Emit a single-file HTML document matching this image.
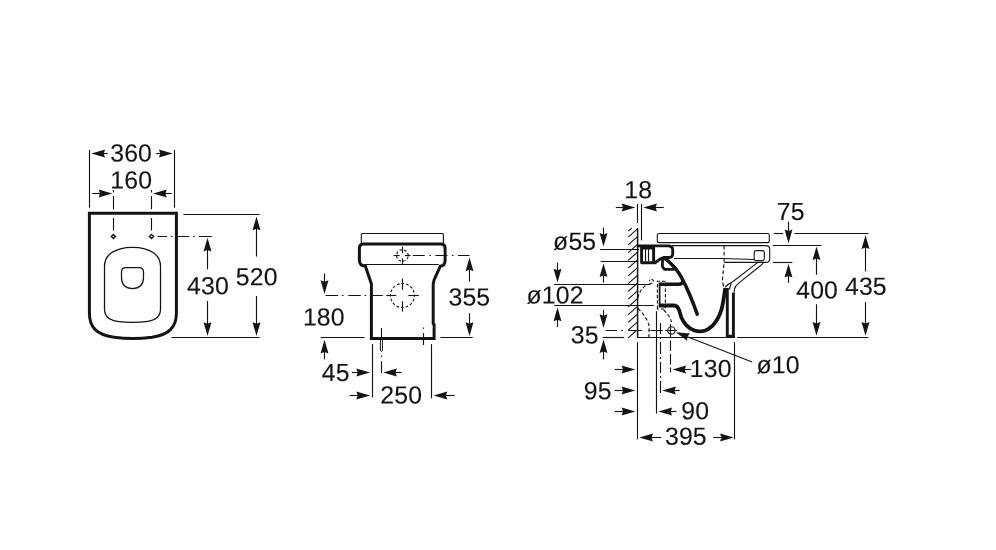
<!DOCTYPE html>
<html lang="en">
<head>
<meta charset="utf-8">
<title>Technical drawing</title>
<style>
html,body{margin:0;padding:0;background:#fff;}
body{width:996px;height:550px;overflow:hidden;}
svg{display:block;filter:grayscale(1);}
text{font-family:"Liberation Sans",Arial,Helvetica,sans-serif;font-size:25px;fill:#141414;stroke:#141414;stroke-width:0.12;text-rendering:geometricPrecision;}
.t{fill:none;stroke:#141414;stroke-width:1.12;}
.m{fill:none;stroke:#141414;stroke-width:1.5;}
.k{fill:none;stroke:#141414;stroke-width:2.4;stroke-linejoin:round;stroke-linecap:round;}
.ah{fill:#141414;stroke:none;}
</style>
</head>
<body>
<svg width="996" height="550" viewBox="0 0 996 550">
<rect x="0" y="0" width="996" height="550" fill="#ffffff"/>
<g id="fig1">
<line class="t" x1="89.50" y1="150.00" x2="89.50" y2="207.80"/>
<line class="t" x1="174.50" y1="150.00" x2="174.50" y2="207.80"/>
<polygon class="ah" points="91.40,153.50 105.10,157.45 103.60,153.50 105.10,149.55"/>
<line class="t" x1="103.10" y1="153.50" x2="107.70" y2="153.50"/>
<polygon class="ah" points="172.60,153.50 158.90,149.55 160.40,153.50 158.90,157.45"/>
<line class="t" x1="160.90" y1="153.50" x2="156.30" y2="153.50"/>
<text transform="translate(131.14,161.46) rotate(0.03)" text-anchor="middle" style="font-size:24.8px;letter-spacing:0.15px">360</text>
<text transform="translate(131.25,188.48) rotate(0.03)" text-anchor="middle" style="font-size:24.8px;letter-spacing:0.15px">160</text>
<polygon class="ah" points="112.30,193.50 98.60,189.55 100.10,193.50 98.60,197.45"/>
<line class="t" x1="100.60" y1="193.50" x2="92.30" y2="193.50"/>
<polygon class="ah" points="153.10,193.50 166.80,197.45 165.30,193.50 166.80,189.55"/>
<line class="t" x1="164.80" y1="193.50" x2="171.60" y2="193.50"/>
<line class="t" x1="113.50" y1="190.00" x2="113.50" y2="230.60" stroke-dasharray="2.6 3.4 13.2 8.8 12.6 100"/>
<line class="t" x1="151.50" y1="190.00" x2="151.50" y2="230.60" stroke-dasharray="2.6 3.4 13.2 8.8 12.6 100"/>
<path class="t" d="M113.40,234.40 l2.1,2.1 l-2.1,2.1 l-2.1,-2.1 z" style="stroke-width:1.35"/>
<path class="t" d="M151.50,234.40 l2.1,2.1 l-2.1,2.1 l-2.1,-2.1 z" style="stroke-width:1.35"/>
<line class="t" x1="157.60" y1="236.50" x2="212.30" y2="236.50" stroke-dasharray="9.5 3.8 1.6 3.7 13 4 1.6 4 13"/>
<path class="k" d="M89.4,213.3 L176.4,213.3 L176.4,313 C176.4,327 169.5,334.5 152,337.3 C140,338.9 126,338.9 114,337.3 C96,334.5 89.4,327 89.4,313 Z" style="stroke-linejoin:miter;stroke-width:3.0"/>
<path class="t" d="M104.5,266 C104.5,260 106.5,256.5 111.1,253.1 C114.8,250.4 122,247.3 132.5,247.3 C143,247.3 150.2,250.4 153.9,253.1 C158.5,256.5 160.5,260 160.5,266 L160.5,309 C160.5,316.5 156.5,320 148,321.3 C138,322.7 127,322.7 117,321.3 C108.5,320 104.5,316.5 104.5,309 Z" style="stroke-width:1.25"/>
<path class="t" d="M126,267.5 L139,267.5 Q143.5,267.5 143.5,272 L143.5,278 C143.5,284.5 139.3,288.6 132.5,288.6 C125.7,288.6 121.5,284.5 121.5,278 L121.5,272 Q121.5,267.5 126,267.5 Z" style="stroke-width:1.25"/>
<line class="t" x1="183.40" y1="214.50" x2="259.70" y2="214.50"/>
<line class="t" x1="171.40" y1="337.50" x2="259.70" y2="337.50"/>
<polygon class="ah" points="256.50,216.60 252.55,230.30 256.50,228.80 260.45,230.30"/>
<line class="t" x1="256.50" y1="228.30" x2="256.50" y2="256.60"/>
<polygon class="ah" points="256.50,336.00 260.45,322.30 256.50,323.80 252.55,322.30"/>
<line class="t" x1="256.50" y1="324.30" x2="256.50" y2="296.00"/>
<text transform="translate(256.70,285.24) rotate(0.03)" text-anchor="middle" style="font-size:24.8px;letter-spacing:0.15px">520</text>
<polygon class="ah" points="207.50,237.80 203.55,251.50 207.50,250.00 211.45,251.50"/>
<line class="t" x1="207.50" y1="249.50" x2="207.50" y2="269.30"/>
<polygon class="ah" points="207.50,336.00 211.45,322.30 207.50,323.80 203.55,322.30"/>
<line class="t" x1="207.50" y1="324.30" x2="207.50" y2="301.00"/>
<text transform="translate(207.90,294.31) rotate(0.03)" text-anchor="middle" style="font-size:24.8px;letter-spacing:0.15px">430</text>
</g>
<g id="fig2">
<path class="t" d="M362.3,233.5 L442.4,233.5 Q443.4,233.5 443.4,234.5 L443.4,243 M361.3,243 L361.3,234.5 Q361.3,233.5 362.3,233.5"/>
<path class="k" d="M363.6,243.9 L441,243.9 C444,243.9 445.1,245.3 445.1,248.3 L445.1,260.5 C445.1,264 443.6,265.8 440.3,266.2 L434.1,280 L433.2,284 L433.2,323.6 L434.1,324.6 L434.1,338.6 L371.4,338.6 L371.4,284 L370.1,280 L365.4,266.2 C361,265.8 359.4,264 359.4,260.5 L359.4,248.3 C359.4,245.3 360.6,243.9 363.6,243.9 Z" style="stroke-width:3;stroke-linejoin:miter"/>
<line class="t" x1="364.10" y1="264.50" x2="438.70" y2="264.50"/>
<circle class="t" cx="402.4" cy="255.5" r="5.8" stroke-dasharray="2.5 2.055" stroke-dashoffset="3.5"/>
<line class="t" x1="402.50" y1="246.60" x2="402.50" y2="253.30"/>
<line class="t" x1="402.50" y1="258.30" x2="402.50" y2="263.90"/>
<line class="t" x1="393.50" y1="255.50" x2="399.60" y2="255.50"/>
<line class="t" x1="405.00" y1="255.50" x2="410.50" y2="255.50"/>
<line class="t" x1="412.80" y1="255.50" x2="469.50" y2="255.50" stroke-dasharray="12 4.5 1.6 4.5"/>
<circle class="t" cx="402.45" cy="295.5" r="12" stroke-dasharray="2.7 2.012" stroke-dashoffset="1.35"/>
<line class="t" x1="402.50" y1="278.60" x2="402.50" y2="289.80"/>
<line class="t" x1="402.50" y1="301.20" x2="402.50" y2="311.60"/>
<line class="t" x1="386.40" y1="295.50" x2="396.30" y2="295.50"/>
<line class="t" x1="408.30" y1="295.50" x2="418.80" y2="295.50"/>
<line class="t" x1="325.60" y1="295.50" x2="382.80" y2="295.50" stroke-dasharray="12.6 3.7 1.6 4.7 12.5 3.8 1.6 5.2 11.5 100"/>
<polygon class="ah" points="324.50,294.00 328.45,280.30 324.50,281.80 320.55,280.30"/>
<line class="t" x1="324.50" y1="282.30" x2="324.50" y2="273.50"/>
<polygon class="ah" points="324.50,339.80 320.55,353.50 324.50,352.00 328.45,353.50"/>
<line class="t" x1="324.50" y1="351.50" x2="324.50" y2="359.30"/>
<text transform="translate(323.82,325.45) rotate(0.03)" text-anchor="middle" style="font-size:24.8px;letter-spacing:0.15px">180</text>
<line class="t" x1="320.70" y1="337.50" x2="364.60" y2="337.50"/>
<line class="t" x1="440.40" y1="337.50" x2="472.70" y2="337.50"/>
<polygon class="ah" points="469.50,257.60 465.55,271.30 469.50,269.80 473.45,271.30"/>
<line class="t" x1="469.50" y1="269.30" x2="469.50" y2="281.60"/>
<polygon class="ah" points="469.50,336.00 473.45,322.30 469.50,323.80 465.55,322.30"/>
<line class="t" x1="469.50" y1="324.30" x2="469.50" y2="313.20"/>
<text transform="translate(469.35,305.50) rotate(0.03)" text-anchor="middle" style="font-size:24.8px;letter-spacing:0.15px">355</text>
<line class="t" x1="372.50" y1="344.10" x2="372.50" y2="397.50"/>
<line class="t" x1="431.50" y1="344.10" x2="431.50" y2="398.30"/>
<line class="t" x1="381.50" y1="328.00" x2="381.50" y2="340.00"/>
<path class="t" d="M380.4,339.6 L380.4,350.6 Q381.4,352 382.4,350.6 L382.4,339.6" style="stroke-width:1"/>
<line class="t" x1="381.50" y1="355.60" x2="381.50" y2="373.10" stroke-dasharray="1.4 4.2 12 100"/>
<line class="t" x1="423.50" y1="327.40" x2="423.50" y2="345.10" stroke-dasharray="1.4 4.2 12 100"/>
<text transform="translate(335.70,381.09) rotate(0.03)" text-anchor="middle" style="font-size:24.8px;letter-spacing:0.15px">45</text>
<polygon class="ah" points="370.00,372.50 356.30,368.55 357.80,372.50 356.30,376.45"/>
<line class="t" x1="358.30" y1="372.50" x2="352.00" y2="372.50"/>
<polygon class="ah" points="383.20,372.50 396.90,376.45 395.40,372.50 396.90,368.55"/>
<line class="t" x1="394.90" y1="372.50" x2="401.70" y2="372.50"/>
<text transform="translate(401.28,403.61) rotate(0.03)" text-anchor="middle" style="font-size:24.8px;letter-spacing:0.15px">250</text>
<polygon class="ah" points="370.00,395.50 356.30,391.55 357.80,395.50 356.30,399.45"/>
<line class="t" x1="358.30" y1="395.50" x2="349.50" y2="395.50"/>
<polygon class="ah" points="433.60,395.50 447.30,399.45 445.80,395.50 447.30,391.55"/>
<line class="t" x1="445.30" y1="395.50" x2="454.60" y2="395.50"/>
</g>
<g id="fig3">
<text transform="translate(638.28,198.33) rotate(0.03)" text-anchor="middle" style="font-size:24.8px;letter-spacing:0.15px">18</text>
<polygon class="ah" points="635.30,207.50 621.60,203.55 623.10,207.50 621.60,211.45"/>
<line class="t" x1="623.60" y1="207.50" x2="615.80" y2="207.50"/>
<polygon class="ah" points="643.30,207.50 657.00,211.45 655.50,207.50 657.00,203.55"/>
<line class="t" x1="655.00" y1="207.50" x2="663.80" y2="207.50"/>
<line class="t" x1="637.50" y1="204.00" x2="637.50" y2="223.00"/>
<line class="t" x1="637.60" y1="228.00" x2="637.60" y2="337.50" style="stroke-width:1.5"/>
<line class="t" x1="637.50" y1="342.20" x2="637.50" y2="439.40"/>
<line class="t" x1="641.50" y1="204.00" x2="641.50" y2="240.30"/>
<line class="t" x1="628.20" y1="231.10" x2="631.70" y2="228.30"/>
<line class="t" x1="628.20" y1="237.10" x2="637.20" y2="229.10"/>
<line class="t" x1="628.20" y1="244.85" x2="637.20" y2="236.85"/>
<line class="t" x1="628.20" y1="252.60" x2="637.20" y2="244.60"/>
<line class="t" x1="628.20" y1="260.35" x2="637.20" y2="252.35"/>
<line class="t" x1="628.20" y1="268.10" x2="637.20" y2="260.10"/>
<line class="t" x1="628.20" y1="275.85" x2="637.20" y2="267.85"/>
<line class="t" x1="628.20" y1="283.60" x2="637.20" y2="275.60"/>
<line class="t" x1="628.20" y1="291.35" x2="637.20" y2="283.35"/>
<line class="t" x1="628.20" y1="299.10" x2="637.20" y2="291.10"/>
<line class="t" x1="628.20" y1="306.85" x2="637.20" y2="298.85"/>
<line class="t" x1="628.20" y1="314.60" x2="637.20" y2="306.60"/>
<line class="t" x1="628.20" y1="322.35" x2="637.20" y2="314.35"/>
<line class="t" x1="628.20" y1="330.10" x2="637.20" y2="322.10"/>
<line class="t" x1="628.20" y1="337.85" x2="636.20" y2="330.75"/>
<text transform="translate(574.70,249.73) rotate(0.03)" text-anchor="middle" style="font-size:24.8px;letter-spacing:0.15px">ø55</text>
<polygon class="ah" points="603.50,246.60 607.45,232.90 603.50,234.40 599.55,232.90"/>
<line class="t" x1="603.50" y1="234.90" x2="603.50" y2="227.60"/>
<line class="t" x1="600.10" y1="249.50" x2="639.20" y2="249.50"/>
<line class="t" x1="600.60" y1="261.50" x2="638.20" y2="261.50"/>
<polygon class="ah" points="603.50,263.40 599.55,277.10 603.50,275.60 607.45,277.10"/>
<line class="t" x1="603.50" y1="275.10" x2="603.50" y2="282.60"/>
<polygon class="ah" points="557.50,282.50 561.45,268.80 557.50,270.30 553.55,268.80"/>
<line class="t" x1="557.50" y1="270.80" x2="557.50" y2="262.70"/>
<line class="t" x1="554.10" y1="284.50" x2="650.30" y2="284.50"/>
<text transform="translate(555.11,303.52) rotate(0.03)" text-anchor="middle" style="font-size:24.8px;letter-spacing:0.15px">ø102</text>
<line class="t" x1="554.10" y1="305.50" x2="653.80" y2="305.50"/>
<polygon class="ah" points="557.50,307.60 553.55,321.30 557.50,319.80 561.45,321.30"/>
<line class="t" x1="557.50" y1="319.30" x2="557.50" y2="327.10"/>
<text transform="translate(584.71,343.38) rotate(0.03)" text-anchor="middle" style="font-size:24.8px;letter-spacing:0.15px">35</text>
<polygon class="ah" points="603.50,328.00 607.45,314.30 603.50,315.80 599.55,314.30"/>
<line class="t" x1="603.50" y1="316.30" x2="603.50" y2="310.00"/>
<line class="t" x1="605.60" y1="330.50" x2="677.10" y2="330.50" stroke-dasharray="11.5 4.3 1.6 5.2 14 6.3 1.6 0.6 12 2.5 12.5"/>
<line class="t" x1="602.60" y1="337.50" x2="624.20" y2="337.50"/>
<polygon class="ah" points="603.50,339.40 599.55,353.10 603.50,351.60 607.45,353.10"/>
<line class="t" x1="603.50" y1="351.10" x2="603.50" y2="359.40"/>
<line class="t" x1="637.10" y1="337.50" x2="735.00" y2="337.50"/>
<line class="t" x1="737.00" y1="337.50" x2="868.50" y2="337.50"/>
<line class="t" x1="656.50" y1="311.20" x2="656.50" y2="413.50"/>
<line class="t" x1="660.50" y1="323.10" x2="660.50" y2="393.50" stroke-dasharray="11 3 2 3 12 3 2 3"/>
<line class="t" x1="670.50" y1="324.10" x2="670.50" y2="338.20"/>
<line class="t" x1="670.50" y1="340.50" x2="670.50" y2="372.50" stroke-dasharray="10.5 3"/>
<circle class="t" cx="671.4" cy="330.4" r="3.7"/>
<path class="t" d="M637.7,298 C640,291 642,288.2 644.3,286.6 C646,285.3 648,284.6 650,284" stroke-dasharray="3.5 2.2"/>
<path class="t" d="M649.5,283.8 C653.5,283.5 654.3,280.5 652.3,279.6 C650.6,279 649.4,280 649.6,281.4" stroke-dasharray="3 1.6"/>
<path class="t" d="M638,308.5 C643,313 647.5,319.5 649.2,326 L648.9,337" stroke-dasharray="3.6 2.2"/>
<path class="t" d="M657.4,309 L657.4,281.2 L665.4,281.2 L665.4,309 Z" stroke-dasharray="3.4 2"/>
<path class="t" d="M663.6,310 C667.5,313.5 670.3,317.5 671.6,322" stroke-dasharray="3.6 2.2"/>
<text transform="translate(710.78,376.98) rotate(0.03)" text-anchor="middle" style="font-size:24.8px;letter-spacing:0.15px">130</text>
<polygon class="ah" points="672.40,369.50 686.10,373.45 684.60,369.50 686.10,365.55"/>
<line class="t" x1="684.10" y1="369.50" x2="690.90" y2="369.50"/>
<polygon class="ah" points="635.30,369.50 621.60,365.55 623.10,369.50 621.60,373.45"/>
<line class="t" x1="623.60" y1="369.50" x2="614.60" y2="369.50"/>
<text transform="translate(597.65,399.29) rotate(0.03)" text-anchor="middle" style="font-size:24.8px;letter-spacing:0.15px">95</text>
<polygon class="ah" points="635.30,390.50 621.60,386.55 623.10,390.50 621.60,394.45"/>
<line class="t" x1="623.60" y1="390.50" x2="614.60" y2="390.50"/>
<polygon class="ah" points="662.20,390.50 675.90,394.45 674.40,390.50 675.90,386.55"/>
<line class="t" x1="673.90" y1="390.50" x2="679.70" y2="390.50"/>
<polygon class="ah" points="635.30,411.50 621.60,407.55 623.10,411.50 621.60,415.45"/>
<line class="t" x1="623.60" y1="411.50" x2="614.60" y2="411.50"/>
<polygon class="ah" points="658.40,411.50 672.10,415.45 670.60,411.50 672.10,407.55"/>
<line class="t" x1="670.10" y1="411.50" x2="676.40" y2="411.50"/>
<text transform="translate(695.20,419.29) rotate(0.03)" text-anchor="middle" style="font-size:24.8px;letter-spacing:0.15px">90</text>
<text transform="translate(685.89,444.66) rotate(0.03)" text-anchor="middle" style="font-size:24.8px;letter-spacing:0.15px">395</text>
<polygon class="ah" points="639.30,437.50 653.00,441.45 651.50,437.50 653.00,433.55"/>
<line class="t" x1="651.00" y1="437.50" x2="661.30" y2="437.50"/>
<polygon class="ah" points="733.70,437.50 720.00,433.55 721.50,437.50 720.00,441.45"/>
<line class="t" x1="722.00" y1="437.50" x2="713.00" y2="437.50"/>
<line class="t" x1="734.50" y1="342.20" x2="734.50" y2="439.40"/>
<polygon class="ah" points="675.80,332.20 687.12,340.87 687.16,336.65 690.00,333.52"/>
<line class="t" x1="686.69" y1="336.47" x2="752.15" y2="362.10"/>
<text transform="translate(778.15,373.18) rotate(0.03)" text-anchor="middle" style="font-size:24.8px;letter-spacing:0.15px">ø10</text>
<path class="t" d="M659,233.5 L767.6,233.5 Q769.3,233.5 769.3,235.2 L769.3,240.9 Q769.3,242.6 767.6,242.6 L659,242.6 Q657.3,242.6 657.3,240.9 L657.3,235.2 Q657.3,233.5 659,233.5 Z"/>
<path class="t" d="M672,245.6 L766,245.6 Q769.7,245.6 769.7,249.3 L769.7,258.7 Q769.7,262.4 766,262.4 L724.1,262.4"/>
<path class="t" d="M756,250.6 L762.5,250.6 Q764.3,250.6 764.3,252.4 L764.3,258.8 Q764.3,260.6 762.5,260.6 L756,260.6 Q754.2,260.6 754.2,258.8 L754.2,252.4 Q754.2,250.6 756,250.6 Z"/>
<path class="t" d="M674,258.5 L722,258.5 L754.2,259.5"/>
<path class="t" d="M724.1,245.6 L724.1,262.4 L722.3,281 L723.8,287.6" stroke-dasharray="3.8 2.4"/>
<path class="t" d="M725.2,287.2 C727.5,284.3 730,282.8 733.4,281.2 L757.5,262.6"/>
<path class="t" d="M734.2,292 L734.5,289 C735.2,286.5 736.3,285 738.4,283.4 L761,265.2 C762.4,264 763,263.3 763.4,262.5"/>
<path class="t" d="M731.3,282.9 L729.3,289.5"/>
<path class="k" d="M727.3,288 L727.3,336.2 L733.4,336.2 L733.4,292.5" style="stroke-width:2.9;stroke-linejoin:miter;stroke-linecap:butt"/>
<path class="k" d="M638.3,245.9 L668,245.9 C671.5,245.9 672.7,247.2 672.7,250 L672.7,254 C672.7,256.6 671.5,257.5 668.5,257.5 L664.5,257.5 C662.5,257.7 661.3,258.3 660,259.2 L655,262.7 L641.6,262.7 L641.6,246 M653.6,247 L653.6,262.5" style="stroke-width:2.9"/>
<path class="k" d="M641.6,247.3 L653.6,247.3" style="stroke-width:4.4;stroke-linecap:butt"/>
<line class="t" x1="645.50" y1="249.00" x2="645.50" y2="261.50"/>
<line class="t" x1="648.50" y1="249.00" x2="648.50" y2="261.50"/>
<path class="k" d="M662.6,259 L662.4,266.6 L664.4,269.3 L674,269.3" style="stroke-width:2.7"/>
<path class="k" d="M664.3,257.8 C673,264.5 678.3,271 681.8,278.1 C685.8,285.5 690.2,294.1 697.2,314.2" style="stroke-width:3.5"/>
<path class="k" d="M658.8,284.2 L679,284.2 C681.5,284.2 682.8,283 683.6,280.6" style="stroke-width:3.5;stroke-linecap:butt"/>
<path class="k" d="M659.6,284.2 L659.6,305.5" style="stroke-width:1.7"/>
<path class="k" d="M658.8,305.5 L674.1,305.5 C677,305.5 678.2,307.5 679.2,310.3 C680,312.5 680.5,315 681.2,317.1 C682.6,320.6 684,322.7 686.2,325.1 C689,328 691.5,329.6 694.5,330.5 C697,331.3 699,331.4 700.5,331.3 C703.5,331.2 705.8,330.6 708.3,329.1 C711.5,327.2 714,324.8 716.3,321.1 C718.5,317.6 720,314 721.3,310.1 C722.8,305.5 723.9,298 725.2,288" style="stroke-width:3.8;stroke-linecap:butt"/>
<text transform="translate(790.81,219.96) rotate(0.03)" text-anchor="middle" style="font-size:24.8px;letter-spacing:0.15px">75</text>
<line class="t" x1="773.80" y1="233.50" x2="783.20" y2="233.50"/>
<line class="t" x1="794.40" y1="233.50" x2="868.50" y2="233.50"/>
<polygon class="ah" points="788.50,243.20 792.45,229.50 788.50,231.00 784.55,229.50"/>
<line class="t" x1="788.50" y1="231.50" x2="788.50" y2="221.70"/>
<line class="t" x1="772.80" y1="245.50" x2="821.30" y2="245.50"/>
<line class="t" x1="772.80" y1="262.50" x2="792.40" y2="262.50"/>
<polygon class="ah" points="788.50,263.80 784.55,277.50 788.50,276.00 792.45,277.50"/>
<line class="t" x1="788.50" y1="275.50" x2="788.50" y2="282.80"/>
<polygon class="ah" points="816.50,246.40 812.55,260.10 816.50,258.60 820.45,260.10"/>
<line class="t" x1="816.50" y1="258.10" x2="816.50" y2="274.70"/>
<text transform="translate(817.12,298.50) rotate(0.03)" text-anchor="middle" style="font-size:24.8px;letter-spacing:0.15px">400</text>
<polygon class="ah" points="816.50,335.80 820.45,322.10 816.50,323.60 812.55,322.10"/>
<line class="t" x1="816.50" y1="324.10" x2="816.50" y2="304.20"/>
<polygon class="ah" points="865.50,235.20 861.55,248.90 865.50,247.40 869.45,248.90"/>
<line class="t" x1="865.50" y1="246.90" x2="865.50" y2="271.50"/>
<text transform="translate(865.87,294.70) rotate(0.03)" text-anchor="middle" style="font-size:24.8px;letter-spacing:0.15px">435</text>
<polygon class="ah" points="865.50,335.80 869.45,322.10 865.50,323.60 861.55,322.10"/>
<line class="t" x1="865.50" y1="324.10" x2="865.50" y2="302.20"/>
</g>
</svg>
</body>
</html>
